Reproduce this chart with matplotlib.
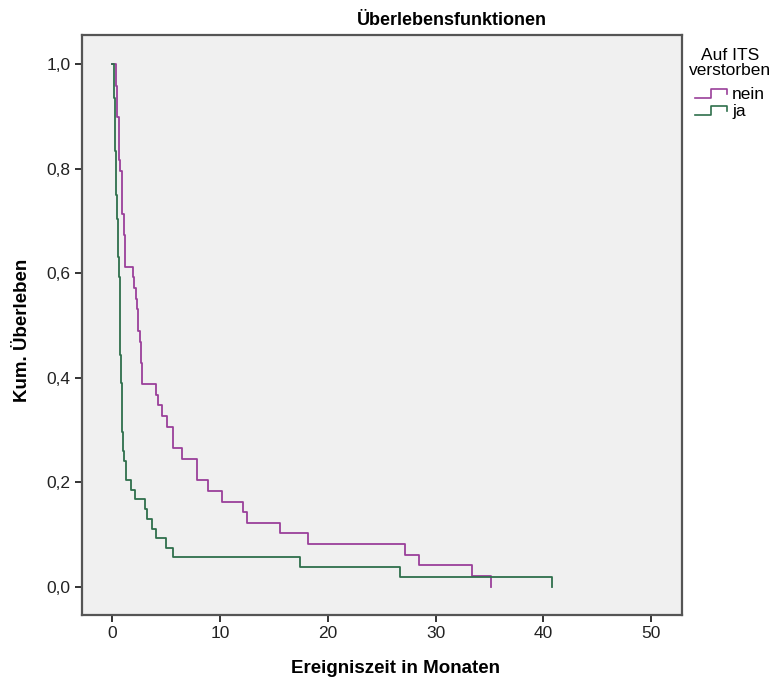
import matplotlib
matplotlib.use('Agg')
import matplotlib.pyplot as plt
from matplotlib.lines import Line2D
from matplotlib.legend_handler import HandlerBase
from matplotlib.ticker import FuncFormatter

plt.rcParams['font.family'] = ['Liberation Sans', 'DejaVu Sans']

# Kaplan-Meier step values (time in months, survival after step)
nein_t = [0, 0.28, 0.44, 0.58, 0.74, 0.90, 1.05, 1.14, 1.88, 1.98, 2.14, 2.29, 2.39,
          2.51, 2.66, 2.76, 4.06, 4.21, 4.55, 5.08, 5.60, 6.47, 7.80, 8.85, 10.18,
          12.10, 12.47, 15.51, 18.15, 27.14, 28.44, 33.40, 35.10]
nein_s = [1.0, 0.959, 0.898, 0.816, 0.796, 0.714, 0.673, 0.612, 0.592, 0.571, 0.551,
          0.531, 0.490, 0.469, 0.429, 0.388, 0.367, 0.347, 0.327, 0.306, 0.265, 0.245,
          0.204, 0.184, 0.163, 0.143, 0.122, 0.102, 0.082, 0.061, 0.041, 0.020, 0.0]

ja_t = [0, 0.15, 0.22, 0.26, 0.30, 0.36, 0.44, 0.53, 0.58, 0.65, 0.68, 0.74, 0.81,
        0.84, 0.90, 0.99, 1.11, 1.21, 1.74, 2.05, 2.98, 3.20, 3.67, 4.05, 5.01, 5.63,
        17.39, 26.68, 40.76]
ja_s = [1.0, 0.935, 0.870, 0.833, 0.778, 0.750, 0.704, 0.630, 0.593, 0.537, 0.491,
        0.444, 0.389, 0.333, 0.296, 0.259, 0.241, 0.204, 0.185, 0.167, 0.148, 0.130,
        0.111, 0.093, 0.074, 0.056, 0.037, 0.0185, 0.0]

x_ticks = [0, 10, 20, 30, 40, 50]
y_ticks = [0.0, 0.2, 0.4, 0.6, 0.8, 1.0]

C_NEIN = '#9a3f9a'
C_JA = '#2f6f4c'


class StepHandler(HandlerBase):
    # little step icon like SPSS legend
    def create_artists(self, legend, orig_handle, xdescent, ydescent, width, height,
                       fontsize, trans):
        x0 = -xdescent
        y0 = -ydescent
        xs = [x0, x0 + 0.5 * width, x0 + 0.5 * width, x0 + width, x0 + width]
        ys = [y0 + 0.1 * height, y0 + 0.1 * height, y0 + 0.8 * height,
              y0 + 0.8 * height, y0 + 0.4 * height]
        ln = Line2D(xs, ys, color=orig_handle.get_color(), lw=1.2, transform=trans)
        return [ln]


fig = plt.figure(figsize=(7.79, 6.84), dpi=100)
fig.patch.set_facecolor('white')
ax = fig.add_axes([0.105, 0.101, 0.771, 0.848])
ax.set_facecolor('#f0f0f0')

ax.step(nein_t, nein_s, where='post', color=C_NEIN, lw=1.3)
ax.step(ja_t, ja_s, where='post', color=C_JA, lw=1.3)

ax.set_xlim(-2.85, 52.9)
ax.set_ylim(-0.054, 1.056)
ax.set_xticks(x_ticks)
ax.set_yticks(y_ticks)
ax.yaxis.set_major_formatter(FuncFormatter(lambda v, p: f'{v:.1f}'.replace('.', ',')))
ax.tick_params(axis='both', direction='out', length=5, width=1.4, color='#333333',
               labelsize=12.5, labelcolor='#222222', pad=3)
for sp in ax.spines.values():
    sp.set_color('#555555')
    sp.set_linewidth(1.6)

ax.set_xlabel('Ereigniszeit in Monaten', fontsize=13.5, fontweight='bold')
ax.xaxis.set_label_coords(0.522, -0.078)
ax.set_ylabel('Kum. Überleben', fontsize=13.5, fontweight='bold')
ax.yaxis.set_label_coords(-0.084, 0.49)
ax.set_title('Überlebensfunktionen', fontsize=13, fontweight='bold', x=0.616, pad=7)

h_nein = Line2D([], [], color=C_NEIN, label='nein')
h_ja = Line2D([], [], color=C_JA, label='ja')
leg = fig.legend(handles=[h_nein, h_ja], title='Auf ITS\nverstorben',
                 loc='upper center', bbox_to_anchor=(0.937, 0.948), frameon=False,
                 fontsize=12.5, title_fontsize=12.5, handlelength=1.85,
                 handletextpad=0.3, labelspacing=0.12, borderpad=0.2,
                 handler_map={Line2D: StepHandler()})
leg.get_title().set_linespacing(1.05)
leg.get_title().set_multialignment('center')
leg._legend_box.sep = 6

fig.savefig('out.png', dpi=100, facecolor='white')
